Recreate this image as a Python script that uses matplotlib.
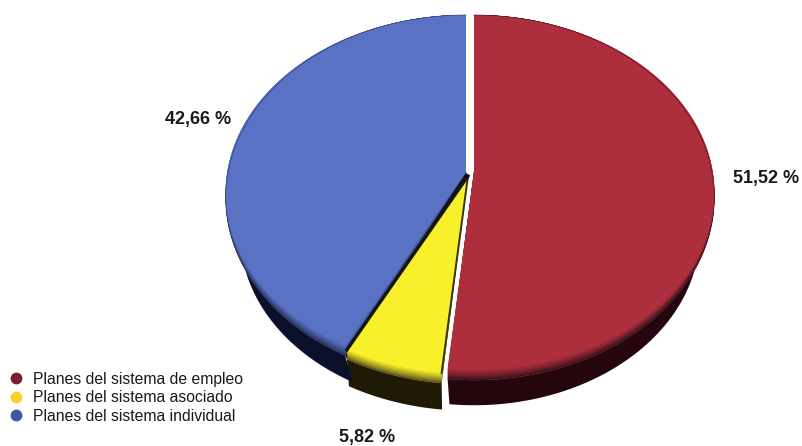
import numpy as np
import matplotlib
matplotlib.use('Agg')
import matplotlib.pyplot as plt
from matplotlib.lines import Line2D

plt.rcParams['font.family'] = ['Liberation Sans', 'DejaVu Sans']

# ── Data ────────────────────────────────────────────────────────────────
labels = ['Planes del sistema de empleo', 'Planes del sistema asociado', 'Planes del sistema individual']
shares = [51.52, 5.82, 42.66]
share_labels = ['51,52 %', '5,82 %', '42,66 %']
legend_colors = ['#7a1f2b', '#f5d327', '#42569f']

# ── Style ───────────────────────────────────────────────────────────────
top_colors = ['#ad2f3d', '#f8f02a', '#5a72c4']
rim_colors = ['#3a1018', '#5b5418', '#26305c']
wall_colors = ['#24060c', '#1e1a06', '#0a0f2a']
wall_inset = [0.94, 0.985, 0.94]
offsets = [(4, 0), (-2, 4), (-4, 0)]
label_pos = [(766, 183), (367, 442), (198, 124)]

cx, cy = 470, 172
a, b, k = 179, 238, 0.14
wall_height = 27
squeeze = 0.028


def project(angle, r=1.0):
    # disc seen in perspective, angle runs clockwise from the top
    x = r * np.sin(angle)
    y = r * np.cos(angle)
    w = 1 + k * y
    return cx + b * x / w, cy - a * y / w


def mix(c1, c2, t):
    c1 = np.array(matplotlib.colors.to_rgb(c1))
    c2 = np.array(matplotlib.colors.to_rgb(c2))
    return c1 * (1 - t) + c2 * t


fig = plt.figure(figsize=(8.03, 4.46), dpi=100)
ax = fig.add_axes([0, 0, 1, 1])
ax.set_xlim(0, 803)
ax.set_ylim(446, 0)
ax.axis('off')

edges = np.cumsum([0] + shares) / sum(shares) * 2 * np.pi
top_y = project(0.0)[1]
front_r = a / (1 - k)

# side walls first
for i in range(len(shares)):
    t = np.linspace(edges[i], edges[i + 1], 120)
    dx, dy = offsets[i]
    px, py = project(t)
    qx, qy = project(t, wall_inset[i])
    depth = wall_height + front_r * (1 - wall_inset[i])
    ax.fill(np.r_[px, qx[::-1]] + dx, np.r_[py, qy[::-1] + depth] + dy,
            color=wall_colors[i], lw=0, zorder=2)

# dark seam between the blue and the yellow slice
ex, ey = project(edges[2])
ax.fill([cx + offsets[2][0], ex + offsets[2][0], ex + offsets[1][0], cx + offsets[1][0]],
        [cy + offsets[2][1], ey + offsets[2][1], ey + offsets[1][1], cy + offsets[1][1]],
        color='#12160f', lw=0, zorder=2)

# top faces, squeezed towards the far rim so the shade only shows near the front
for i in range(len(shares)):
    t = np.linspace(edges[i], edges[i + 1], 160)
    dx, dy = offsets[i]
    px, py = project(t)
    for e, s in zip(np.linspace(0, squeeze, 9), np.linspace(0, 1, 9)):
        ax.fill(np.r_[cx, px] + dx, np.r_[cy, top_y + (py - top_y) * (1 - e)] + dy,
                color=mix(rim_colors[i], top_colors[i], s ** 0.8), lw=0, zorder=3)
    ax.plot(px + dx, py + dy, color=rim_colors[i], lw=0.5, alpha=0.7, zorder=4)

# dark borders on both straight edges of the yellow slice, up to the shaded tip
for edge, col, width in zip([edges[1], edges[2]], ['#3a3410', '#12160f'], [1.4, 2.4]):
    ex, ey = project(edge)
    ey = top_y + (ey - top_y) * (1 - squeeze)
    ax.plot([cx + offsets[1][0], ex + offsets[1][0]], [cy + offsets[1][1], ey + offsets[1][1]],
            color=col, lw=width, zorder=4)

for txt, (x, y) in zip(share_labels, label_pos):
    ax.text(x, y, txt, ha='center', va='baseline', fontsize=13, fontweight='bold',
            color='#1a1a1a', zorder=5)

handles = [Line2D([], [], ls='', marker='o', ms=8.5, mfc=c, mec='none') for c in legend_colors]
ax.legend(handles, labels, loc='lower left', bbox_to_anchor=(8.6 / 803, 0.05), frameon=False,
          fontsize=11.3, labelspacing=0.22, handletextpad=0.55, handlelength=1.0,
          borderpad=0, borderaxespad=0, labelcolor='#1a1a1a')

fig.savefig('out.png', dpi=100)
